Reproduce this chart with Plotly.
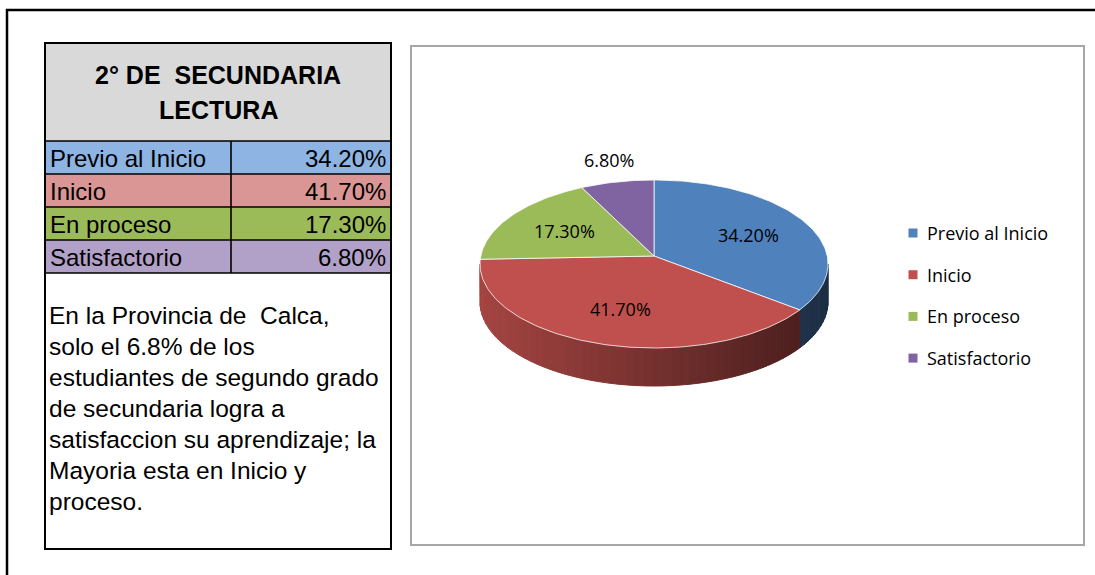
import numpy as np
import plotly.graph_objects as go

# ---------------- data ----------------
categories = ["Previo al Inicio", "Inicio", "En proceso", "Satisfactorio"]
values = [34.2, 41.7, 17.3, 6.8]
title_lines = ["2° DE  SECUNDARIA", "LECTURA"]
note_lines = [
    "En la Provincia de  Calca,",
    "solo el 6.8% de los",
    "estudiantes de segundo grado",
    "de secundaria logra a",
    "satisfaccion su aprendizaje; la",
    "Mayoria esta en Inicio y",
    "proceso.",
]

# ---------------- styles ----------------
slice_colors = ["#4F81BD", "#C0504D", "#9BBB59", "#8064A2"]
table_colors = ["#8DB4E2", "#DA9694", "#9BBB59", "#B1A0C7"]
ARIAL = "Liberation Sans, Arial, sans-serif"
CALIBRI = "Open Sans, sans-serif"

W, H = 1095, 575
CX, CY, RX, RY, DEPTH, APEX_DY = 654, 264, 174, 84, 38, -8

# table geometry
TL, TR, TDIV = 45, 391, 231
T_TOP, H_BOT, ROW_H, T_BOT = 43, 141, 33, 549


def ell(t):
    r = np.radians(t)
    return CX + RX * np.cos(r), CY - RY * np.sin(r)


def shade(hexc, f):
    h = hexc.lstrip("#")
    r, g, b = (int(h[i:i + 2], 16) for i in (0, 2, 4))
    return "rgb(%d,%d,%d)" % (r * f, g * f, b * f)


fig = go.Figure()
total = float(sum(values))
bounds = 90 - 360 * np.concatenate([[0], np.cumsum(values)]) / total

# ---- side walls (front, visible half) ----
for i in range(len(values)):
    a0, a1 = bounds[i], bounds[i + 1]
    for k in (-360, 0, 360):
        lo, hi = max(a1, -180 + k), min(a0, 0 + k)
        if hi <= lo:
            continue
        n = int(np.ceil((hi - lo) / 3.0))
        edges = np.linspace(lo, hi, n + 1)
        for ta, tb in zip(edges[:-1], edges[1:]):
            ts = np.linspace(ta, tb, 5)
            ex, ey = ell(ts)
            xs = np.concatenate([ex, ex[::-1], ex[:1]])
            ys = np.concatenate([ey, ey[::-1] + DEPTH, ey[:1]])
            xm = ex.mean()
            f = 0.86 - 0.5 * (xm - (CX - RX)) / (2 * RX)
            col = shade(slice_colors[i], f)
            fig.add_trace(go.Scatter(x=xs, y=ys, mode="lines", fill="toself",
                                     fillcolor=col, line=dict(color=col, width=1),
                                     hoverinfo="skip", showlegend=False))

# ---- top faces ----
for i in range(len(values)):
    a0, a1 = bounds[i], bounds[i + 1]
    ts = np.linspace(a0, a1, max(int(abs(a0 - a1)), 4))
    ex, ey = ell(ts)
    xs = np.concatenate([[CX], ex, [CX]])
    ys = np.concatenate([[CY + APEX_DY], ey, [CY + APEX_DY]])
    fig.add_trace(go.Scatter(x=xs, y=ys, mode="lines", fill="toself",
                             fillcolor=slice_colors[i],
                             line=dict(color="rgba(255,255,255,0.75)", width=1),
                             name=categories[i], hoverinfo="name", showlegend=False))

annotations = []
# ---- data labels ----
for i, v in enumerate(values):
    mid = np.radians((bounds[i] + bounds[i + 1]) / 2)
    frac = 0.62 if v >= 10 else 1.22
    lx = CX + frac * RX * np.cos(mid)
    ly = CY + APEX_DY * 0.5 - frac * RY * np.sin(mid)
    annotations.append(dict(x=lx, y=ly, text="%.2f%%" % v, showarrow=False,
                            font=dict(family=CALIBRI, size=18, color="#000000"),
                            xanchor="center", yanchor="middle"))

# ---- legend ----
LEG_X, LEG_Y0, LEG_DY = 913, 233, 41.7
leg_y = [LEG_Y0 + LEG_DY * i for i in range(len(categories))]
fig.add_trace(go.Scatter(x=[LEG_X] * len(categories), y=leg_y, mode="markers",
                         marker=dict(symbol="square", size=9, color=slice_colors),
                         hoverinfo="skip", showlegend=False))
for i, c in enumerate(categories):
    annotations.append(dict(x=LEG_X + 12, y=leg_y[i], text=c, showarrow=False,
                            font=dict(family=CALIBRI, size=18, color="#000000"),
                            xanchor="left", yanchor="middle"))

shapes = []
# outer frame (extends beyond the picture)
shapes.append(dict(type="path", path="M 7 %d L 7 10 L %d 10" % (H + 5, W + 5),
                   line=dict(color="black", width=2.5)))
# chart area box
shapes.append(dict(type="rect", x0=411, y0=46, x1=1084, y1=545,
                   line=dict(color="#A6A6A6", width=2), fillcolor="rgba(0,0,0,0)"))
# table header
shapes.append(dict(type="rect", x0=TL, y0=T_TOP, x1=TR, y1=H_BOT,
                   fillcolor="#D9D9D9", line=dict(width=0), layer="below"))
for i, c in enumerate(categories):
    y0 = H_BOT + ROW_H * i
    shapes.append(dict(type="rect", x0=TL, y0=y0, x1=TR, y1=y0 + ROW_H,
                       fillcolor=table_colors[i], line=dict(width=0), layer="below"))
    shapes.append(dict(type="line", x0=TL, x1=TR, y0=y0, y1=y0,
                       line=dict(color="black", width=1.6)))
    annotations.append(dict(x=TL + 3, y=y0 + ROW_H / 2 + 1, text=c, showarrow=False,
                            font=dict(family=ARIAL, size=24, color="#000000"),
                            xanchor="left", yanchor="middle"))
    annotations.append(dict(x=TR - 3, y=y0 + ROW_H / 2 + 1, text="%.2f%%" % values[i],
                            showarrow=False,
                            font=dict(family=ARIAL, size=24, color="#000000"),
                            xanchor="right", yanchor="middle"))
rows_bot = H_BOT + ROW_H * len(categories)
shapes.append(dict(type="line", x0=TL, x1=TR, y0=rows_bot, y1=rows_bot,
                   line=dict(color="black", width=1.6)))
shapes.append(dict(type="line", x0=TDIV, x1=TDIV, y0=H_BOT, y1=rows_bot,
                   line=dict(color="black", width=1.6)))
shapes.append(dict(type="rect", x0=TL, y0=T_TOP, x1=TR, y1=T_BOT,
                   line=dict(color="black", width=2), fillcolor="rgba(0,0,0,0)"))

# header text
for j, t in enumerate(title_lines):
    annotations.append(dict(x=(TL + TR) / 2, y=75 + 35 * j, text="<b>%s</b>" % t,
                            showarrow=False,
                            font=dict(family=ARIAL, size=25, color="#000000"),
                            xanchor="center", yanchor="middle"))
# note text
for j, t in enumerate(note_lines):
    annotations.append(dict(x=TL + 2, y=rows_bot + 42 + 31 * j, text=t, showarrow=False,
                            font=dict(family=ARIAL, size=24.5, color="#000000"),
                            xanchor="left", yanchor="middle"))

fig.update_layout(
    width=W, height=H, autosize=False,
    margin=dict(l=0, r=0, t=0, b=0, pad=0),
    paper_bgcolor="white", plot_bgcolor="white",
    xaxis=dict(range=[0, W], visible=False, fixedrange=True),
    yaxis=dict(range=[H, 0], visible=False, fixedrange=True),
    shapes=shapes, annotations=annotations, showlegend=False,
)

fig.write_html("out.html", config={"displayModeBar": False},
               post_script="document.body.style.margin='0';document.body.style.overflow='hidden';")
